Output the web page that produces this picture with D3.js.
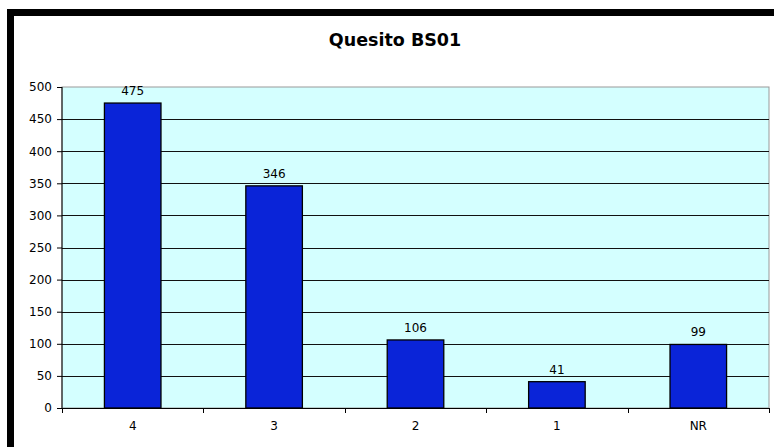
<!DOCTYPE html>
<html>
<head>
<meta charset="utf-8">
<script src="https://cdn.jsdelivr.net/npm/d3@7"></script>
<style>
  body { margin: 0; background: #fff; }
  svg { display: block; font-family: Verdana, "DejaVu Sans", sans-serif; }
</style>
</head>
<body>
<script>
const categories = ["4", "3", "2", "1", "NR"]
const values = [475, 346, 106, 41, 99]
const yTicks = [0, 50, 100, 150, 200, 250, 300, 350, 400, 450, 500]
const title = "Quesito BS01"

const width = 774, height = 447
const plot = {left: 62, right: 769, top: 87, bottom: 408}

let svg = d3.select("body").append("svg")
    .attr("width", width)
    .attr("height", height)

// frame (black edges top and left)
svg.append("rect").attr("x", 7).attr("y", 9).attr("width", width - 7).attr("height", 7).attr("fill", "#000")
svg.append("rect").attr("x", 7).attr("y", 9).attr("width", 7).attr("height", height - 9).attr("fill", "#000")

svg.append("text")
    .attr("x", 395)
    .attr("y", 46)
    .attr("text-anchor", "middle")
    .attr("font-size", 17.5)
    .attr("font-weight", "bold")
    .text(title)

let x = d3.scaleBand()
    .domain(categories)
    .range([plot.left, plot.right])
    .paddingInner(0)
    .paddingOuter(0)

let y = d3.scaleLinear()
    .domain([0, 500])
    .range([plot.bottom, plot.top])

svg.append("rect")
    .attr("x", plot.left)
    .attr("y", plot.top)
    .attr("width", plot.right - plot.left)
    .attr("height", plot.bottom - plot.top)
    .attr("fill", "#d4ffff")
    .attr("stroke", "#999")
    .attr("stroke-width", 1)

// gridlines
svg.append("g")
    .selectAll("line")
    .data(yTicks.filter(d => d > 0 && d < 500))
    .join("line")
    .attr("x1", plot.left)
    .attr("x2", plot.right)
    .attr("y1", d => Math.round(y(d)) + 0.5)
    .attr("y2", d => Math.round(y(d)) + 0.5)
    .attr("stroke", "#111")
    .attr("stroke-width", 1)

// bars
let barW = x.bandwidth() / 2.5
svg.append("g")
    .selectAll("rect")
    .data(values)
    .join("rect")
    .attr("x", (d, i) => x(categories[i]) + (x.bandwidth() - barW) / 2)
    .attr("y", d => y(d))
    .attr("width", barW)
    .attr("height", d => plot.bottom - y(d))
    .attr("fill", "#0a24d8")
    .attr("stroke", "#000")
    .attr("stroke-width", 1.3)

// data labels
svg.append("g")
    .selectAll("text")
    .data(values)
    .join("text")
    .attr("x", (d, i) => x(categories[i]) + x.bandwidth() / 2)
    .attr("y", d => y(d) - 8)
    .attr("text-anchor", "middle")
    .attr("font-size", 12)
    .attr("fill", "#000")
    .text(d => d)

// y axis
let yAxis = svg.append("g")
    .attr("transform", `translate(${plot.left},0)`)
    .call(d3.axisLeft(y).tickValues(yTicks).tickSize(5).tickPadding(5))
yAxis.selectAll("text").attr("font-size", 12).attr("fill", "#000").attr("font-family", "Verdana, 'DejaVu Sans', sans-serif")
yAxis.selectAll("line").attr("stroke", "#000")
yAxis.select(".domain").attr("stroke", "#000").attr("d", `M0,${plot.bottom}V${plot.top}`)

// x axis
let xAxis = svg.append("g")
    .attr("transform", `translate(0,${plot.bottom})`)
    .call(d3.axisBottom(x).tickSize(0).tickPadding(13))
xAxis.selectAll("text").attr("font-size", 12).attr("fill", "#000").attr("font-family", "Verdana, 'DejaVu Sans', sans-serif")
xAxis.select(".domain").attr("stroke", "#000").attr("d", `M${plot.left},0.5H${plot.right}`)

// tick marks between categories
let bounds = categories.map(c => x(c)).concat([plot.right])
xAxis.append("g")
    .selectAll("line")
    .data(bounds)
    .join("line")
    .attr("x1", d => Math.round(d) + 0.5)
    .attr("x2", d => Math.round(d) + 0.5)
    .attr("y1", 0)
    .attr("y2", 5)
    .attr("stroke", "#000")
</script>
</body>
</html>
